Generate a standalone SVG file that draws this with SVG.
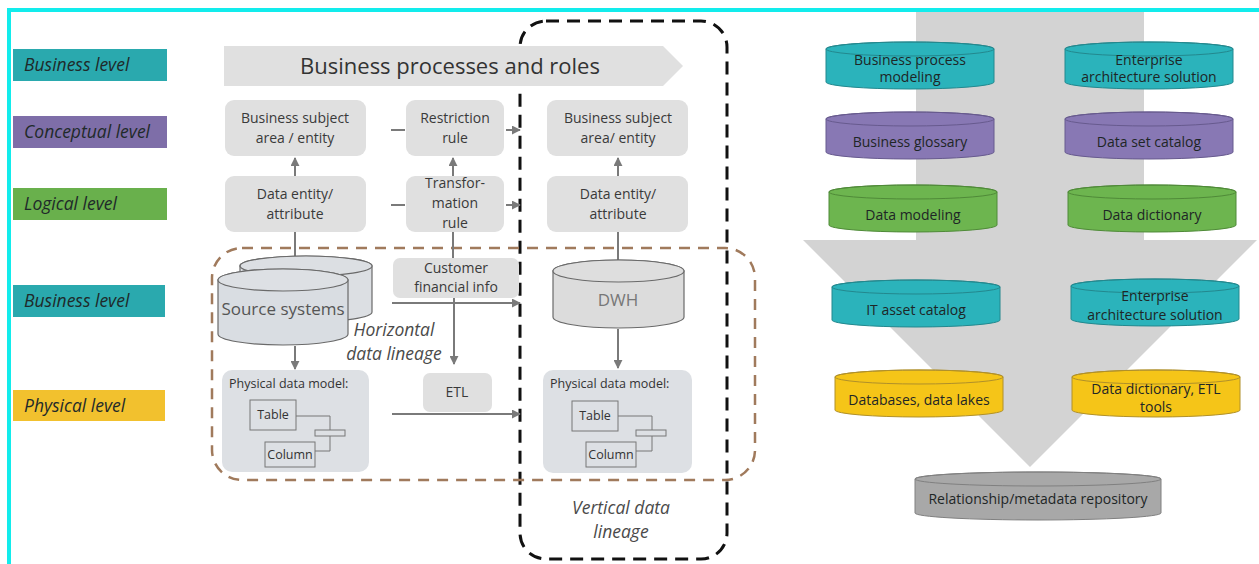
<svg xmlns="http://www.w3.org/2000/svg" width="1259" height="564" viewBox="0 0 1259 564">
  <style>
    text { font-family: "Open Sans", "Liberation Sans", sans-serif; }
    .lvl { font-size: 17.5px; font-style: italic; fill: #1f2a2a; }
    .box { fill: #e0e0e0; }
    .btxt { font-size: 14px; fill: #3a3a3a; text-anchor: middle; }
    .pdm { fill: #dde0e4; }
    .ptxt { font-size: 12.5px; fill: #333; }
    .small { fill: none; stroke: #777; stroke-width: 1; }
    .conn { stroke: #7a7a7a; stroke-width: 2; fill: none; }
    .dtxt { font-size: 14px; fill: #1e2626; text-anchor: middle; }
    .ital { font-size: 17.5px; font-style: italic; fill: #4a4a4a; text-anchor: middle; }
  </style>
  <defs>
    <marker id="ah" viewBox="0 0 10 10" refX="9" refY="5" markerWidth="4.5" markerHeight="4.5" orient="auto">
      <path d="M0,0 L10,5 L0,10 Z" fill="#7a7a7a"/>
    </marker>
    <g id="disk">
      <path d="M0,7 A84,7 0 0 1 168,7 L168,40 A84,7 0 0 1 0,40 Z"/>
      <ellipse cx="84" cy="7" rx="84" ry="7" fill="none"/>
    </g>
  </defs>

  <rect width="1259" height="564" fill="#ffffff"/>

  <!-- frame -->
  <g id="frame" stroke="#12ecec" stroke-width="4">
    <line x1="7" y1="10" x2="1259" y2="10"/>
    <line x1="9" y1="8" x2="9" y2="564"/>
  </g>

  <!-- level labels -->
  <g id="level-business-1"><rect x="13" y="49" width="154" height="32" fill="#2aa9ae"/><text class="lvl" x="24" y="71">Business level</text></g>
  <g id="level-conceptual"><rect x="13" y="116" width="154" height="32" fill="#7e6ea8"/><text class="lvl" x="24" y="138">Conceptual level</text></g>
  <g id="level-logical"><rect x="13" y="188" width="154" height="32" fill="#69b04c"/><text class="lvl" x="24" y="210">Logical level</text></g>
  <g id="level-business-2"><rect x="13" y="285" width="152" height="32" fill="#2aa9ae"/><text class="lvl" x="24" y="307">Business level</text></g>
  <g id="level-physical"><rect x="13" y="390" width="152" height="31" fill="#f2c12e"/><text class="lvl" x="24" y="412">Physical level</text></g>

  <!-- lineage outlines -->
  <g id="vertical-lineage">
    <rect x="520" y="21" width="207" height="538" rx="26" fill="none" stroke="#111" stroke-width="3" stroke-dasharray="13 8"/>
    <text class="ital" x="621" y="514">Vertical data</text>
    <text class="ital" x="621" y="538">lineage</text>
  </g>
  <g id="horizontal-lineage">
    <rect x="212" y="248" width="543" height="232" rx="30" fill="none" stroke="#a07a5c" stroke-width="2.5" stroke-dasharray="11 8"/>
    <text class="ital" x="394" y="336">Horizontal</text>
    <text class="ital" x="394" y="360">data lineage</text>
  </g>

  <!-- business processes banner -->
  <g id="business-processes">
    <path d="M224,46 L663,46 L683,66 L663,86 L224,86 Z" fill="#e0e0e0"/>
    <text x="450" y="74" font-size="22" fill="#333" text-anchor="middle">Business processes and roles</text>
  </g>

  <!-- connectors -->
  <g id="connectors">
    <line class="conn" x1="295" y1="176" x2="295" y2="158" marker-end="url(#ah)"/>
    <line class="conn" x1="295" y1="256" x2="295" y2="232"/>
    <line class="conn" x1="295" y1="346" x2="295" y2="369" marker-end="url(#ah)"/>
    <line class="conn" x1="391" y1="130" x2="405" y2="130"/>
    <line class="conn" x1="506" y1="130" x2="520" y2="130" marker-end="url(#ah)"/>
    <line class="conn" x1="391" y1="205" x2="405" y2="205"/>
    <line class="conn" x1="506" y1="205" x2="520" y2="205" marker-end="url(#ah)"/>
    <line class="conn" x1="453" y1="176" x2="453" y2="158" marker-end="url(#ah)"/>
    <line class="conn" x1="453" y1="232" x2="453" y2="258"/>
    <line class="conn" x1="618" y1="176" x2="618" y2="158" marker-end="url(#ah)"/>
    <line class="conn" x1="618" y1="260" x2="618" y2="232"/>
    <line class="conn" x1="618" y1="329" x2="618" y2="368" marker-end="url(#ah)"/>
    <line class="conn" x1="392" y1="303" x2="520" y2="303" marker-end="url(#ah)"/>
    <line class="conn" x1="454" y1="298" x2="454" y2="364" marker-end="url(#ah)"/>
    <line class="conn" x1="392" y1="414" x2="520" y2="414" marker-end="url(#ah)"/>
  </g>

  <!-- left column -->
  <g id="subject-area-left">
    <rect class="box" x="225" y="100" width="141" height="56" rx="9"/>
    <text class="btxt" x="295" y="123">Business subject</text>
    <text class="btxt" x="295" y="143">area / entity</text>
  </g>
  <g id="data-entity-left">
    <rect class="box" x="225" y="176" width="141" height="56" rx="9"/>
    <text class="btxt" x="295" y="199">Data entity/</text>
    <text class="btxt" x="295" y="219">attribute</text>
  </g>

  <!-- rules -->
  <g id="restriction-rule">
    <rect class="box" x="406" y="100" width="98" height="56" rx="9"/>
    <text class="btxt" x="455" y="123">Restriction</text>
    <text class="btxt" x="455" y="143">rule</text>
  </g>
  <g id="transformation-rule">
    <rect class="box" x="406" y="176" width="98" height="56" rx="9"/>
    <text class="btxt" x="455" y="188">Transfor-</text>
    <text class="btxt" x="455" y="208">mation</text>
    <text class="btxt" x="455" y="228">rule</text>
  </g>

  <!-- right column -->
  <g id="subject-area-right">
    <rect class="box" x="547" y="100" width="141" height="56" rx="9"/>
    <text class="btxt" x="618" y="123">Business subject</text>
    <text class="btxt" x="618" y="143">area/ entity</text>
  </g>
  <g id="data-entity-right">
    <rect class="box" x="547" y="176" width="141" height="56" rx="9"/>
    <text class="btxt" x="618" y="199">Data entity/</text>
    <text class="btxt" x="618" y="219">attribute</text>
  </g>

  <!-- source systems -->
  <g id="source-systems" stroke="#6a6a6a" stroke-width="1.2">
    <path d="M240,266 A66,10 0 0 1 372,266 L372,312 A66,10 0 0 1 240,312 Z" fill="#dcdfe3"/>
    <ellipse cx="306" cy="266" rx="66" ry="10" fill="#dcdfe3"/>
    <path d="M218,280 A65,11 0 0 1 348,280 L348,334 A65,11 0 0 1 218,334 Z" fill="#d9dde2"/>
    <ellipse cx="283" cy="280" rx="65" ry="11" fill="#dde0e4"/>
    <text x="283" y="315" font-size="17" fill="#555" text-anchor="middle" stroke="none">Source systems</text>
  </g>

  <g id="customer-financial-info">
    <rect class="box" x="393" y="258" width="126" height="40" rx="7"/>
    <text class="btxt" x="456" y="273">Customer</text>
    <text class="btxt" x="456" y="292">financial info</text>
  </g>

  <g id="etl">
    <rect class="box" x="423" y="373" width="69" height="39" rx="7"/>
    <text class="btxt" x="457" y="397" font-size="15">ETL</text>
  </g>

  <!-- DWH -->
  <g id="dwh" stroke="#6a6a6a" stroke-width="1.2">
    <path d="M553,271 A65.5,11 0 0 1 684,271 L684,317 A65.5,11 0 0 1 553,317 Z" fill="#dcdcdc"/>
    <ellipse cx="618.5" cy="271" rx="65.5" ry="11" fill="#dedede"/>
    <text x="618" y="306" font-size="17" fill="#777" text-anchor="middle" stroke="none">DWH</text>
  </g>

  <!-- physical data models -->
  <g id="physical-model-left">
    <rect class="pdm" x="222" y="370" width="147" height="102" rx="10"/>
    <text class="ptxt" x="229" y="388">Physical data model:</text>
    <rect class="small" x="250" y="400" width="46" height="30"/>
    <text class="ptxt" x="273" y="419" text-anchor="middle">Table</text>
    <rect class="small" x="265" y="442" width="50" height="25"/>
    <text class="ptxt" x="290" y="459" text-anchor="middle">Column</text>
    <rect class="small" x="315" y="430" width="30" height="6"/>
    <polyline class="small" points="296,416 330,416 330,430"/>
    <polyline class="small" points="330,436 330,451 315,451"/>
  </g>
  <g id="physical-model-right">
    <rect class="pdm" x="543" y="370" width="149" height="103" rx="10"/>
    <text class="ptxt" x="550" y="388">Physical data model:</text>
    <rect class="small" x="572" y="401" width="46" height="30"/>
    <text class="ptxt" x="595" y="420" text-anchor="middle">Table</text>
    <rect class="small" x="586" y="442" width="50" height="25"/>
    <text class="ptxt" x="611" y="459" text-anchor="middle">Column</text>
    <rect class="small" x="636" y="430" width="30" height="6"/>
    <polyline class="small" points="618,416 652,416 652,430"/>
    <polyline class="small" points="652,436 652,451 636,451"/>
  </g>

  <!-- tool stack -->
  <g id="flow-arrow">
    <path d="M916,12 L1144,12 L1144,240 L1257,240 L1030,467 L803,240 L916,240 Z" fill="#d3d3d3"/>
  </g>

  <g id="bpm-tool"><use href="#disk" x="826" y="42" fill="#2bb3bb" stroke="#23888e"/><text class="dtxt" x="910" y="65">Business process</text><text class="dtxt" x="910" y="82">modeling</text></g>
  <g id="ea-tool-1"><use href="#disk" x="1065" y="42" fill="#2bb3bb" stroke="#23888e"/><text class="dtxt" x="1149" y="65">Enterprise</text><text class="dtxt" x="1149" y="82">architecture solution</text></g>
  <g id="glossary-tool"><use href="#disk" x="826" y="112" fill="#8878b4" stroke="#675a8e"/><text class="dtxt" x="910" y="147">Business glossary</text></g>
  <g id="dataset-tool"><use href="#disk" x="1065" y="112" fill="#8878b4" stroke="#675a8e"/><text class="dtxt" x="1149" y="147">Data set catalog</text></g>
  <g id="modeling-tool"><use href="#disk" x="829" y="185" fill="#6db54f" stroke="#4f8a38"/><text class="dtxt" x="913" y="220">Data modeling</text></g>
  <g id="dictionary-tool"><use href="#disk" x="1068" y="185" fill="#6db54f" stroke="#4f8a38"/><text class="dtxt" x="1152" y="220">Data dictionary</text></g>
  <g id="it-asset-tool"><use href="#disk" x="832" y="280" fill="#2bb3bb" stroke="#23888e"/><text class="dtxt" x="916" y="315">IT asset catalog</text></g>
  <g id="ea-tool-2"><use href="#disk" x="1071" y="279" fill="#2bb3bb" stroke="#23888e"/><text class="dtxt" x="1155" y="301">Enterprise</text><text class="dtxt" x="1155" y="320">architecture solution</text></g>
  <g id="databases-tool"><use href="#disk" x="835" y="370" fill="#f5c518" stroke="#b0902a"/><text class="dtxt" x="919" y="405">Databases, data lakes</text></g>
  <g id="etl-tool"><use href="#disk" x="1072" y="370" fill="#f5c518" stroke="#b0902a"/><text class="dtxt" x="1156" y="394">Data dictionary,  ETL</text><text class="dtxt" x="1156" y="412">tools</text></g>

  <g id="metadata-repository" fill="#a8a8a8" stroke="#808080">
    <path d="M915,479 A123,7 0 0 1 1161,479 L1161,513 A123,7 0 0 1 915,513 Z"/>
    <ellipse cx="1038" cy="479" rx="123" ry="7" fill="none"/>
    <text class="dtxt" x="1038" y="504" stroke="none" fill="#2a2a2a">Relationship/metadata repository</text>
  </g>
</svg>
